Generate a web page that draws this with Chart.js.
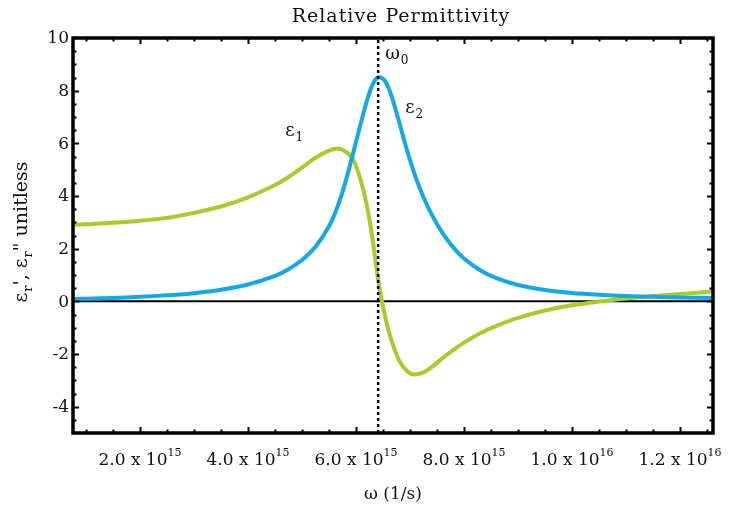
<!DOCTYPE html>
<html>
<head>
<meta charset="utf-8">
<title>Relative Permittivity</title>
<script src="https://cdn.jsdelivr.net/npm/chart.js@4.4.1/dist/chart.umd.min.js"></script>
<style>
    html, body { margin: 0; padding: 0; background: #fff; }
    #wrap { width: 731px; height: 511px; }
</style>
</head>
<body>
<div id="wrap"><canvas id="permChart" width="731" height="511"></canvas></div>
<script>
// frequency, in units of 10^15 1/s
const omega = [0.76, 1.0, 1.5, 2.0, 2.5, 3.0, 3.5, 4.0, 4.5, 4.75, 5.0, 5.25, 5.5, 5.65, 5.8, 5.95,
    6.1, 6.2, 6.3, 6.4, 6.5, 6.6, 6.7, 6.8, 6.9, 7.0, 7.1, 7.25, 7.4, 7.6, 7.8, 8.0,
    8.3, 8.6, 9.0, 9.5, 10.0, 10.5, 11.0, 11.5, 12.0, 12.61];
// real part (green)
const eps1 = [2.91, 2.93, 2.98, 3.06, 3.17, 3.36, 3.60, 3.95, 4.42, 4.72, 5.08, 5.45, 5.72, 5.80, 5.70, 5.38,
    4.50, 3.65, 2.45, 0.95, -0.20, -1.10, -1.75, -2.25, -2.55, -2.73, -2.78, -2.70, -2.50, -2.16, -1.85, -1.57,
    -1.21, -0.93, -0.63, -0.35, -0.15, -0.01, 0.11, 0.20, 0.28, 0.37];
// imaginary part (blue)
const eps2 = [0.09, 0.10, 0.13, 0.17, 0.23, 0.31, 0.44, 0.64, 0.97, 1.22, 1.57, 2.07, 2.85, 3.55, 4.50, 5.65,
    6.85, 7.60, 8.20, 8.50, 8.45, 8.12, 7.52, 6.80, 6.06, 5.36, 4.74, 3.95, 3.30, 2.60, 2.05, 1.63,
    1.18, 0.88, 0.62, 0.43, 0.32, 0.25, 0.20, 0.17, 0.15, 0.13];
const omega0 = 6.41;

const xTickValues = [2, 4, 6, 8, 10, 12];
const xTickMantissa = ['2.0', '4.0', '6.0', '8.0', '1.0', '1.2'];
const xTickExponent = ['15', '15', '15', '15', '16', '16'];
const yTickValues = [-4, -2, 0, 2, 4, 6, 8, 10];

const xMin = 0.76, xMax = 12.61, yMin = -5, yMax = 10;

// curve labels, placed in data coordinates
const curveLabels = [
    { base: 'ε', sub: '1', x: 4.69, y: 6.28 },
    { base: 'ε', sub: '2', x: 6.91, y: 7.16 },
    { base: 'ω', sub: '0', x: 6.54, y: 9.2 }
];

const serif = '"DejaVu Serif", serif';

const drawSub = function (ctx, base, sub, x, y, size) {
    ctx.font = size + 'px ' + serif;
    ctx.fillText(base, x, y);
    let w = ctx.measureText(base).width;
    if (sub) {
        ctx.font = Math.round(size * 0.68) + 'px ' + serif;
        ctx.fillText(sub, x + w + 1, y + size * 0.28);
        w += ctx.measureText(sub).width + 1;
    }
    return w;
};

const framePlugin = {
    id: 'frame',
    beforeDatasetsDraw(chart) {
        const { ctx, chartArea: a, scales: { y } } = chart;
        const y0 = y.getPixelForValue(0);
        ctx.save();
        ctx.strokeStyle = '#000';
        ctx.lineWidth = 2;
        ctx.beginPath();
        ctx.moveTo(a.left, y0);
        ctx.lineTo(a.right, y0);
        ctx.stroke();
        ctx.restore();
    },
    afterDraw(chart) {
        const { ctx, chartArea: a, scales: { x, y } } = chart;
        ctx.save();
        ctx.fillStyle = '#111';
        ctx.strokeStyle = '#000';

        // ticks pointing inward
        ctx.lineWidth = 2;
        ctx.beginPath();
        for (let v = 1.0; v <= 12.51; v += 0.5) {
            const px = Math.round(x.getPixelForValue(v)) + 0.5;
            const len = (Math.abs(v % 2) < 0.01) ? 6 : 3.5;
            ctx.moveTo(px, a.bottom); ctx.lineTo(px, a.bottom - len);
            ctx.moveTo(px, a.top); ctx.lineTo(px, a.top + len);
        }
        for (let v = -4.5; v <= 9.51; v += 0.5) {
            const py = Math.round(y.getPixelForValue(v)) + 0.5;
            const len = (Math.abs(v % 2) < 0.01) ? 6 : 3.5;
            ctx.moveTo(a.left, py); ctx.lineTo(a.left + len, py);
            ctx.moveTo(a.right, py); ctx.lineTo(a.right - len, py);
        }
        ctx.stroke();

        // frame
        ctx.lineWidth = 3.5;
        ctx.strokeRect(a.left, a.top, a.right - a.left, a.bottom - a.top);

        // y tick labels
        ctx.font = '17px ' + serif;
        ctx.textAlign = 'right';
        ctx.textBaseline = 'middle';
        yTickValues.forEach(function (v) {
            ctx.fillText(String(v), a.left - 4, y.getPixelForValue(v) + 1);
        });

        // x tick labels with exponent
        ctx.textAlign = 'left';
        ctx.textBaseline = 'alphabetic';
        xTickValues.forEach(function (v, i) {
            const main = xTickMantissa[i] + ' x 10';
            ctx.font = '17px ' + serif;
            const wm = ctx.measureText(main).width;
            ctx.font = '11px ' + serif;
            const we = ctx.measureText(xTickExponent[i]).width;
            const left = x.getPixelForValue(v) - (wm + we) / 2;
            ctx.font = '17px ' + serif;
            ctx.fillText(main, left, a.bottom + 32);
            ctx.font = '11px ' + serif;
            ctx.fillText(xTickExponent[i], left + wm, a.bottom + 23);
        });

        // x title
        ctx.font = '17px ' + serif;
        ctx.textAlign = 'center';
        ctx.fillText('ω (1/s)', (a.left + a.right) / 2, a.bottom + 66);

        // chart title
        ctx.font = '19px ' + serif;
        if ('letterSpacing' in ctx) ctx.letterSpacing = '1px';
        ctx.fillText('Relative Permittivity', (a.left + a.right) / 2 + 8, 22);
        if ('letterSpacing' in ctx) ctx.letterSpacing = '0px';

        // y title, rotated
        ctx.textAlign = 'left';
        const parts = [['ε', 'r'], ["', ", null], ['ε', 'r'], ['" unitless', null]];
        ctx.save();
        ctx.translate(27, 232);
        ctx.rotate(-Math.PI / 2);
        let total = 0;
        parts.forEach(function (p) {
            ctx.font = '19px ' + serif;
            total += ctx.measureText(p[0]).width;
            if (p[1]) { ctx.font = '13px ' + serif; total += ctx.measureText(p[1]).width + 1; }
        });
        let cx = -total / 2;
        parts.forEach(function (p) {
            cx += drawSub(ctx, p[0], p[1], cx, 0, 19);
        });
        ctx.restore();

        // curve labels
        curveLabels.forEach(function (l) {
            drawSub(ctx, l.base, l.sub, x.getPixelForValue(l.x), y.getPixelForValue(l.y), 18);
        });
        ctx.restore();
    }
};

const toPoints = function (xs, ys) {
    return xs.map(function (v, i) { return { x: v, y: ys[i] }; });
};

new Chart(document.getElementById('permChart'), {
    type: 'line',
    data: {
        datasets: [
            {
                label: 'omega0',
                data: [{ x: omega0, y: yMin }, { x: omega0, y: yMax }],
                borderColor: '#000',
                borderWidth: 2.5,
                borderDash: [3, 3],
                pointRadius: 0,
                tension: 0
            },
            {
                label: 'eps2',
                data: toPoints(omega, eps2),
                borderColor: '#16a8e6',
                borderWidth: 4,
                pointRadius: 0,
                tension: 0.3
            },
            {
                label: 'eps1',
                data: toPoints(omega, eps1),
                borderColor: '#a9cc2c',
                borderWidth: 4,
                pointRadius: 0,
                tension: 0.3
            }
        ]
    },
    options: {
        responsive: false,
        animation: false,
        devicePixelRatio: 1,
        layout: { padding: { left: 73, right: 18, top: 38, bottom: 78 } },
        plugins: { legend: { display: false }, tooltip: { enabled: false }, title: { display: false } },
        scales: {
            x: { type: 'linear', min: xMin, max: xMax, display: false },
            y: { type: 'linear', min: yMin, max: yMax, display: false }
        }
    },
    plugins: [framePlugin]
});
</script>
</body>
</html>
